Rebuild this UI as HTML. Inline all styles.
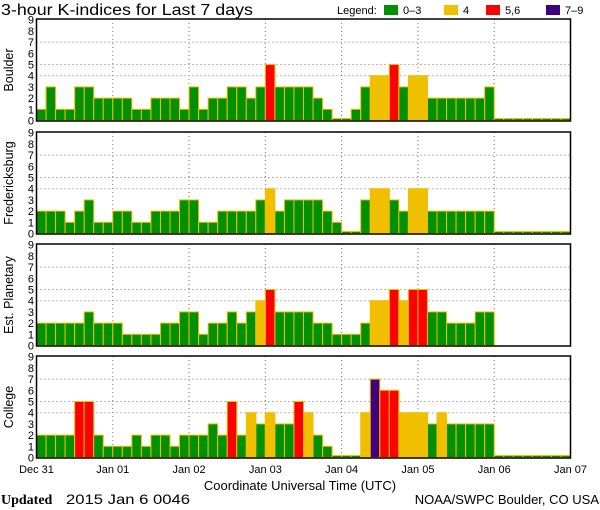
<!DOCTYPE html>
<html><head><meta charset="utf-8"><style>
body{margin:0;background:#fff;}
svg{display:block;font-family:"Liberation Sans",sans-serif;}
</style></head><body>
<svg id="c" width="600" height="510" xmlns="http://www.w3.org/2000/svg">
<text x="1" y="15" font-size="15.5" textLength="252" lengthAdjust="spacingAndGlyphs">3-hour K-indices for Last 7 days</text>
<g font-size="11">
<text x="337" y="14">Legend:</text>
<rect x="384" y="5" width="14" height="10" fill="#009000"/><text x="403" y="14">0–3</text>
<rect x="444" y="5" width="14" height="10" fill="#f0c000"/><text x="463" y="14">4</text>
<rect x="486" y="5" width="14" height="10" fill="#ff0000"/><text x="505" y="14">5,6</text>
<rect x="546" y="5" width="14" height="10" fill="#400080"/><text x="565" y="14">7–9</text>
</g>
<text x="300" y="490" font-size="13" text-anchor="middle">Coordinate Universal Time (UTC)</text>
<text x="1" y="504" font-size="14"><tspan font-weight="bold" font-family="Liberation Serif">Updated</tspan><tspan x="66" textLength="124" lengthAdjust="spacingAndGlyphs">2015 Jan  6 0046</tspan></text>
<text x="599" y="504" font-size="13" text-anchor="end">NOAA/SWPC Boulder, CO USA</text>
</svg>
<script>
const stations = ["Boulder","Fredericksburg","Est. Planetary","College"];
const boulder = [1,3,1,1,3,3,2,2,2,2,1,1,2,2,2,1,3,1,2,2,3,3,2,3,5,3,3,3,3,2,1,0,0,1,3,4,4,5,3,4,4,2,2,2,2,2,2,3,0,0,0,0,0,0,0,0];
const fredericksburg = [2,2,2,1,2,3,1,1,2,2,1,1,2,2,2,3,3,1,1,2,2,2,2,3,4,2,3,3,3,3,2,1,0,0,3,4,4,3,2,4,4,2,2,2,2,2,2,2,0,0,0,0,0,0,0,0];
const planetary = [2,2,2,2,2,3,2,2,2,1,1,1,1,2,2,3,3,1,2,2,3,2,3,4,5,3,3,3,3,2,2,1,1,1,2,4,4,5,4,5,5,3,3,2,2,2,3,3,null,null,null,null,null,null,null,null];
const college = [2,2,2,2,5,5,2,1,1,1,2,1,2,2,1,2,2,2,3,2,5,2,4,3,4,3,3,5,4,2,1,0,0,0,4,7,6,6,4,4,4,3,4,3,3,3,3,3,0,0,0,0,0,0,0,0];
const series = [boulder,fredericksburg,planetary,college];
const dayLabels = ["Dec 31","Jan 01","Jan 02","Jan 03","Jan 04","Jan 05","Jan 06","Jan 07"];
const yTicks = [0,1,2,3,4,5,6,7,8,9];

const NS="http://www.w3.org/2000/svg";
const svg=document.getElementById('c');
const X0=36.5, X1=570.5, N=56;
const panelTops=[19,132,244,356], PH=102;
function mk(t,a,p){const e=document.createElementNS(NS,t);for(const k in a)e.setAttribute(k,a[k]);(p||svg).appendChild(e);return e;}
function xs(i){return X0+(X1-X0)*i/N;}
function color(v){return v>=7?"#400080":v>=5?"#ff0000":v>=4?"#f0c000":"#009000";}
series.forEach((data,p)=>{
  const top=panelTops[p], bot=top+PH, unit=11.2, zero=bot-0.5;
  const ys=v=>zero-v*unit;
  const g=mk('g',{});
  
  
  [4,5,7].forEach(v=>{const l=mk('line',{x1:X0,x2:X1,y1:ys(v),y2:ys(v),stroke:'#777','stroke-dasharray':'1 3'},g);
    });
  for(let d=1;d<7;d++){const l=mk('line',{x1:xs(d*8),x2:xs(d*8),y1:top,y2:bot,stroke:'#777','stroke-dasharray':'1 3'},g);
    }
  data.forEach((v,i)=>{
    if(v===null)return;
    const x=xs(i), w=xs(i+1)-x;
    const h=Math.max(v*unit,2);
    const r=mk('rect',{x:x,y:zero-h,width:w,height:h,fill:color(v),stroke:'#f0c000','stroke-width':1},g);
    
    
  });
  const f=mk('rect',{x:X0,y:top,width:X1-X0,height:PH,fill:'none',stroke:'#000','stroke-width':1.5},g);
  
  yTicks.forEach(v=>{const t=mk('text',{x:34,y:ys(v)+4,'font-size':11,'text-anchor':'end'},g);t.textContent=v;
    });
  const cy=(top+bot)/2;
  const lab=mk('text',{x:0,y:0,'font-size':12.5,'text-anchor':'middle',transform:`translate(13,${cy}) rotate(-90)`},g);
  lab.textContent=stations[p];
  
});
dayLabels.forEach((s,d)=>{const t=mk('text',{x:xs(d*8),y:473,'font-size':11,'text-anchor':'middle'});t.textContent=s;
  });
</script>
</body></html>
